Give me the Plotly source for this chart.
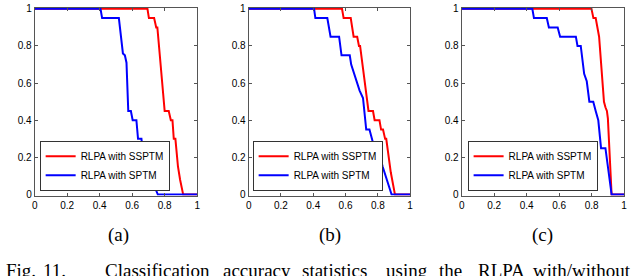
import plotly.graph_objects as go

# ---- data (threshold vs. fraction) ----
red_a_x = [0, 0.694, 0.703, 0.735, 0.748, 0.755, 0.77, 0.785, 0.80, 0.825, 0.838, 0.848, 0.856, 0.866, 0.882, 0.895, 0.914, 1]
red_a_y = [1, 1, 0.95, 0.95, 0.9, 0.9, 0.75, 0.6, 0.45, 0.45, 0.4, 0.4, 0.3, 0.3, 0.15, 0.08, 0, 0]
blue_a_x = [0, 0.405, 0.415, 0.518, 0.543, 0.555, 0.565, 0.576, 0.592, 0.603, 0.626, 0.636, 0.657, 0.669, 0.72, 0.758, 1]
blue_a_y = [1, 1, 0.95, 0.95, 0.76, 0.75, 0.71, 0.45, 0.45, 0.4, 0.4, 0.3, 0.3, 0.2, 0.08, 0, 0]

red_b_x = [0, 0.578, 0.588, 0.632, 0.65, 0.672, 0.683, 0.69, 0.708, 0.728, 0.742, 0.77, 0.78, 0.81, 0.82, 0.832, 0.845, 0.852, 0.867, 0.88, 0.906, 1]
red_b_y = [1, 1, 0.95, 0.95, 0.85, 0.85, 0.8, 0.8, 0.68, 0.54, 0.45, 0.45, 0.4, 0.4, 0.35, 0.35, 0.3, 0.3, 0.2, 0.12, 0, 0]
blue_b_x = [0, 0.405, 0.413, 0.487, 0.507, 0.56, 0.575, 0.626, 0.635, 0.652, 0.667, 0.687, 0.708, 0.718, 0.728, 0.748, 0.762, 0.779, 0.80, 0.83, 0.885, 1]
blue_b_y = [1, 1, 0.95, 0.95, 0.85, 0.85, 0.75, 0.75, 0.7, 0.65, 0.61, 0.56, 0.52, 0.45, 0.35, 0.35, 0.3, 0.25, 0.25, 0.15, 0, 0]

red_c_x = [0, 0.799, 0.811, 0.825, 0.846, 0.862, 0.876, 0.885, 0.894, 0.90, 0.923, 1]
red_c_y = [1, 1, 0.95, 0.95, 0.85, 0.68, 0.5, 0.47, 0.45, 0.41, 0, 0]
blue_c_x = [0, 0.435, 0.445, 0.524, 0.537, 0.591, 0.606, 0.703, 0.713, 0.733, 0.754, 0.77, 0.786, 0.81, 0.825, 0.841, 0.858, 0.885, 0.923, 1]
blue_c_y = [1, 1, 0.95, 0.95, 0.9, 0.9, 0.85, 0.85, 0.8, 0.8, 0.65, 0.61, 0.5, 0.5, 0.45, 0.4, 0.25, 0.25, 0, 0]

series_names = ["RLPA with SSPTM", "RLPA with SPTM"]
panel_labels = ["(a)", "(b)", "(c)"]
tick_vals = [0, 0.2, 0.4, 0.6, 0.8, 1]
tick_text = ["0", "0.2", "0.4", "0.6", "0.8", "1"]
caption_words = ["Fig.", "11.", "Classification", "accuracy", "statistics", "using", "the", "RLPA", "with/without"]

W, H = 640, 276
px = lambda v: v / W
py = lambda v: 1 - v / H

panels = [
    (red_a_x, red_a_y, blue_a_x, blue_a_y),
    (red_b_x, red_b_y, blue_b_x, blue_b_y),
    (red_c_x, red_c_y, blue_c_x, blue_c_y),
]
x_domains = [(32, 196), (248, 411), (463, 627)]
legend_left = [37, 252, 469]
label_x = [117, 330, 545]

fig = go.Figure()
TICKFONT = dict(family="Liberation Sans, Arial", size=10, color="#000")

layout = dict(
    width=W, height=H, margin=dict(l=0, r=0, t=0, b=0),
    paper_bgcolor="white", plot_bgcolor="white", showlegend=True,
)

for i, (rx, ry, bx, by) in enumerate(panels):
    sfx = "" if i == 0 else str(i + 1)
    leg = "legend" if i == 0 else f"legend{i+1}"
    fig.add_trace(go.Scatter(x=rx, y=ry, mode="lines", name=series_names[0],
                             line=dict(color="#ff0000", width=2),
                             xaxis="x" + sfx, yaxis="y" + sfx, legend=leg))
    fig.add_trace(go.Scatter(x=bx, y=by, mode="lines", name=series_names[1],
                             line=dict(color="#0000ff", width=2),
                             xaxis="x" + sfx, yaxis="y" + sfx, legend=leg))
    ax = dict(tickvals=tick_vals, ticktext=tick_text, ticks="inside",
              ticklen=3, tickcolor="#555", showline=True, linecolor="#555", linewidth=1,
              mirror="ticks", showgrid=False, zeroline=False, tickfont=TICKFONT,
              fixedrange=True, ticklabeloverflow="allow")
    layout["xaxis" + sfx] = dict(ax, range=[0, 1],
                                 domain=[px(x_domains[i][0]), px(x_domains[i][1])],
                                 anchor="y" + sfx)
    layout["yaxis" + sfx] = dict(ax, range=[-0.0052, 1.0052],
                                 domain=[py(198), py(4)], anchor="x" + sfx)
    layout[leg] = dict(x=px(legend_left[i]), y=py(193), xanchor="left", yanchor="bottom",
                       bgcolor="white", bordercolor="#333", borderwidth=1,
                       font=dict(family="Liberation Sans, Arial", size=10, color="#000"),
                       itemwidth=30, tracegroupgap=0)

annotations = []
for i, lab in enumerate(panel_labels):
    annotations.append(dict(x=px(label_x[i]), y=py(239), xref="paper", yref="paper",
                            text=lab, showarrow=False, xanchor="center", yanchor="middle",
                            font=dict(family="Liberation Serif, Times New Roman", size=19, color="#000")))
word_x = [1, 38, 101, 220, 300, 385, 438, 477, 533]
for w, x in zip(caption_words, word_x):
    annotations.append(dict(x=px(x), y=py(263), xref="paper", yref="paper", text=w,
                            showarrow=False, xanchor="left", yanchor="top",
                            font=dict(family="Liberation Serif, Times New Roman", size=19, color="#000")))
layout["annotations"] = annotations

fig.update_layout(**layout)
fig.write_html("out.html", config={"displayModeBar": False},
               post_script="document.body.style.margin='0';")
